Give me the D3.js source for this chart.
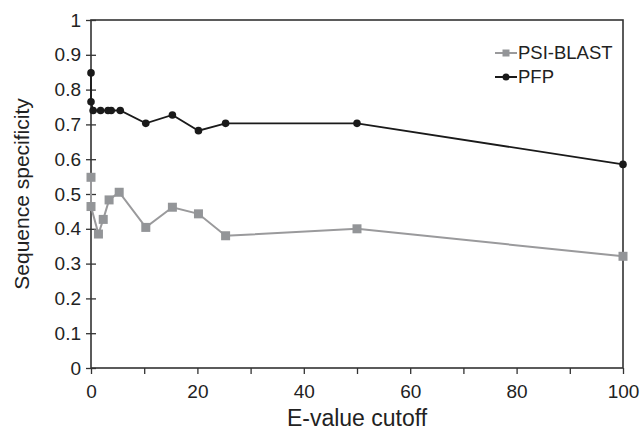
<!DOCTYPE html>
<html>
<head>
<meta charset="utf-8">
<script src="https://cdn.jsdelivr.net/npm/d3@7"></script>
<style>
  body { margin: 0; background: white; }
  text { font-family: "Liberation Sans", Arial, sans-serif; fill: #222; }
</style>
</head>
<body>
<div id="chart"></div>
<script>
let w = 640;
let h = 432;

// data
let psiX = [0, 0, 1.4, 2.3, 3.4, 5.3, 10.3, 15.3, 20.2, 25.3, 50, 100];
let psiY = [0.548, 0.464, 0.385, 0.427, 0.483, 0.505, 0.404, 0.462, 0.443, 0.380, 0.400, 0.321];
let pfpX = [0, 0, 0.4, 1.8, 3.2, 3.8, 5.5, 10.3, 15.3, 20.2, 25.3, 50, 100];
let pfpY = [0.848, 0.765, 0.74, 0.74, 0.74, 0.74, 0.74, 0.703, 0.727, 0.682, 0.703, 0.703, 0.585];
let xTicks = [0, 10, 20, 30, 40, 50, 60, 70, 80, 90, 100];
let xLabels = [0, 20, 40, 60, 80, 100];
let yTicks = [0, 0.1, 0.2, 0.3, 0.4, 0.5, 0.6, 0.7, 0.8, 0.9, 1];
let seriesNames = ["PSI-BLAST", "PFP"];

let margin = {left: 91, right: 17, top: 20, bottom: 64};

let svg = d3.select("#chart").append("svg")
	.attr("width", w)
	.attr("height", h);

let xScale = d3.scaleLinear().domain([0, 100]).range([margin.left, w - margin.right]);
let yScale = d3.scaleLinear().domain([0, 1]).range([h - margin.bottom, margin.top]);

let axisColor = "#333";

// frame
svg.append("rect")
	.attr("x", xScale(0))
	.attr("y", yScale(1))
	.attr("width", xScale(100) - xScale(0))
	.attr("height", yScale(0) - yScale(1))
	.attr("fill", "none")
	.attr("stroke", axisColor)
	.attr("stroke-width", 1.6);

// x axis
let xAxis = svg.append("g")
	.attr("transform", "translate(0," + yScale(0) + ")")
	.call(d3.axisBottom(xScale).tickValues(xTicks).tickSize(6)
		.tickFormat(d => xLabels.includes(d) ? d : ""));
xAxis.select(".domain").remove();
xAxis.selectAll("line").attr("stroke", axisColor).attr("stroke-width", 1.3);
xAxis.selectAll("text").attr("font-size", 19).attr("y", 17).attr("dy", "0.71em").attr("fill", "#222");

// y axis, ticks crossing the line
let yAxis = svg.append("g")
	.attr("transform", "translate(" + xScale(0) + ",0)")
	.call(d3.axisLeft(yScale).tickValues(yTicks).tickSize(5)
		.tickFormat(d => d === 0 || d === 1 ? d : d.toFixed(1)));
yAxis.select(".domain").remove();
yAxis.selectAll("line").attr("x2", 5).attr("x1", -5).attr("stroke", axisColor).attr("stroke-width", 1.3);
yAxis.selectAll("text").attr("font-size", 19).attr("x", -10).attr("fill", "#222");

// titles
svg.append("text")
	.attr("x", (xScale(0) + xScale(100)) / 2)
	.attr("y", 426)
	.attr("text-anchor", "middle")
	.attr("font-size", 23)
	.text("E-value cutoff");

svg.append("text")
	.attr("transform", "translate(29," + (yScale(0.5)) + ") rotate(-90)")
	.attr("text-anchor", "middle")
	.attr("font-size", 21)
	.text("Sequence specificity");

// lines
let psiData = psiX.map((x, i) => [x, psiY[i]]);
let pfpData = pfpX.map((x, i) => [x, pfpY[i]]);

let line = d3.line().x(d => xScale(d[0])).y(d => yScale(d[1]));

svg.append("path")
	.datum(psiData)
	.attr("d", line)
	.attr("fill", "none")
	.attr("stroke", "#9a9a9c")
	.attr("stroke-width", 2);

svg.selectAll(".psi").data(psiData).enter()
	.append("rect")
	.attr("class", "psi")
	.attr("x", d => xScale(d[0]) - 4.5)
	.attr("y", d => yScale(d[1]) - 4.5)
	.attr("width", 9)
	.attr("height", 9)
	.attr("fill", "#939598");

svg.append("path")
	.datum(pfpData)
	.attr("d", line)
	.attr("fill", "none")
	.attr("stroke", "#1a1a1a")
	.attr("stroke-width", 1.8);

svg.selectAll(".pfp").data(pfpData).enter()
	.append("circle")
	.attr("class", "pfp")
	.attr("cx", d => xScale(d[0]))
	.attr("cy", d => yScale(d[1]))
	.attr("r", 3.8)
	.attr("fill", "#1a1a1a");

// legend
let legendColors = ["#9a9a9c", "#1a1a1a"];
let legend = svg.selectAll(".legend").data(seriesNames).enter()
	.append("g")
	.attr("class", "legend")
	.attr("transform", (d, i) => "translate(495," + (53 + i * 24) + ")");

legend.append("line")
	.attr("x1", 0).attr("x2", 22)
	.attr("stroke", (d, i) => legendColors[i])
	.attr("stroke-width", 2);
legend.filter((d, i) => i === 0).append("rect")
	.attr("x", 7.5).attr("y", -3.5).attr("width", 7).attr("height", 7)
	.attr("fill", "#939598");
legend.filter((d, i) => i === 1).append("circle")
	.attr("cx", 11).attr("r", 3.5)
	.attr("fill", "#1a1a1a");
legend.append("text")
	.attr("x", 23)
	.attr("dy", "0.35em")
	.attr("font-size", 18.5)
	.text(d => d);
</script>
</body>
</html>
